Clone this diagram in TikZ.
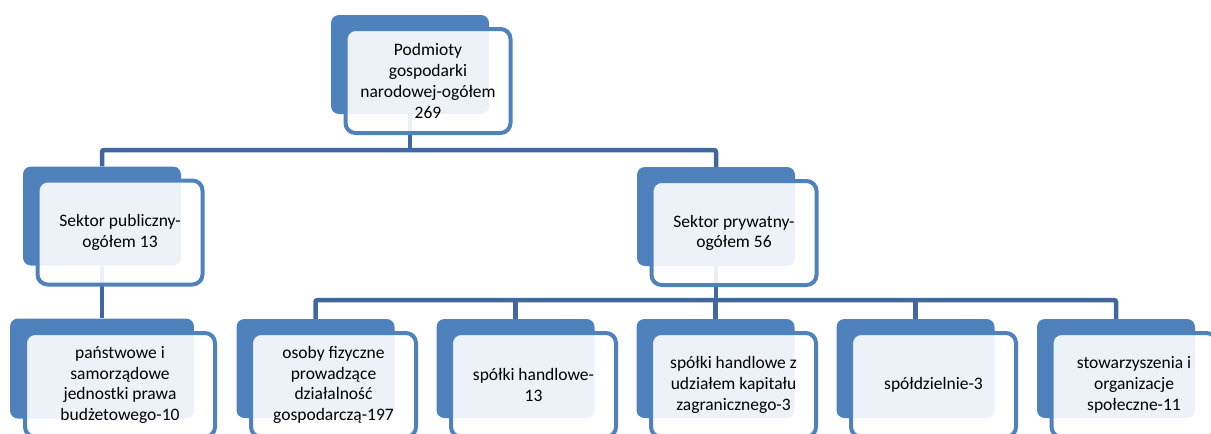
\documentclass[tikz,border=0pt]{standalone}
\usepackage{fontspec}
\setmainfont{Carlito}
\usetikzlibrary{calc}

\pgfdeclarelayer{lines}
\pgfdeclarelayer{shade}
\pgfsetlayers{lines,shade,main}

\definecolor{boxblue}{RGB}{79,129,189}
\definecolor{lineblue}{RGB}{65,104,158}

\tikzset{
  front/.style={draw=boxblue, line width=4pt, fill=white, fill opacity=0.9,
    text opacity=1, rounded corners=10pt, minimum width=165pt,
    minimum height=104pt, align=center, font=\fontsize{17.5}{20.7}\selectfont},
  back/.style={fill=boxblue, rounded corners=8pt, minimum width=158pt,
    minimum height=99pt},
  conn/.style={draw=lineblue, line width=4.5pt, rounded corners=2pt}
}

\begin{document}
\begin{tikzpicture}[x=1pt, y=-1pt]
\useasboundingbox (0,0) rectangle (1211,434);

% front boxes
\node[front] (fp0) at (428,81) {Podmioty\\gospodarki\\narodowej-ogółem\\269};
\node[front] (fs1) at (120,232.5) {Sektor publiczny-\\ogółem 13};
\node[front] (fs2) at (734,233) {Sektor prywatny-\\ogółem 56};
\node[front, minimum width=190pt] (fj1) at (120,385)
  {państwowe i\\samorządowe\\jednostki prawa\\budżetowego-10};
\foreach \n/\x/\txt in {
    j2/333.5/{osoby fizyczne\\prowadzące\\działalność\\gospodarczą-197},
    j3/533.5/{spółki handlowe-\\13},
    j4/733.5/{spółki handlowe z\\udziałem kapitału\\zagranicznego-3},
    j5/933.5/{spółdzielnie-3},
    j6/1134/{stowarzyszenia i\\organizacje\\społeczne-11}}
  \node[front] (f\n) at (\x,385) {\txt};

% back boxes
\begin{pgfonlayer}{shade}
  \foreach \n in {p0,s1,s2,j2,j3,j4,j5,j6}
    \node[back] (\n) at ($(f\n)+(-18,-16.5)$) {};
  \node[back, minimum width=184pt, minimum height=100pt] (j1) at ($(fj1)+(-18,-16.5)$) {};
\end{pgfonlayer}

% connectors
\begin{pgfonlayer}{lines}
  \coordinate (h1) at (0,150);
  \coordinate (h2) at (0,300);
  \draw[conn] (p0) -- (p0 |- h1);
  \draw[conn] (s1) |- (s2 |- h1) -- (s2);
  \draw[conn] (s1) -- (j1);
  \draw[conn] (s2) -- (s2 |- h2);
  \draw[conn] (j2) |- (j6 |- h2) -- (j6);
  \foreach \n in {j3,j4,j5}
    \draw[conn] (\n) -- (\n |- h2);
\end{pgfonlayer}
\end{tikzpicture}
\end{document}
